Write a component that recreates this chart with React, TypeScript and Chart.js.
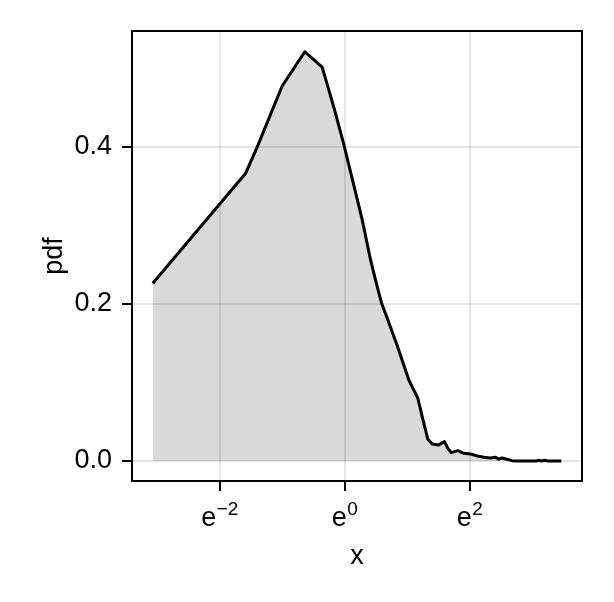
import React, { useEffect, useRef } from "react";
import { Chart, registerables } from "chart.js";

Chart.register(...registerables);

// natural log of x (the x axis is logarithmic, base e)
const logX = [
  -3.067, -1.584, -1.381, -0.997, -0.635, -0.357, -0.16, -0.01, 0.283, 0.416,
  0.507, 0.592, 0.656, 0.843, 1.029, 1.173, 1.243, 1.296, 1.333, 1.403,
  1.509, 1.6, 1.653, 1.707, 1.813, 1.909, 2.016, 2.123, 2.23, 2.336,
  2.416, 2.47, 2.52, 2.6, 2.68, 2.76, 3.08, 3.11, 3.147, 3.216, 3.24, 3.47,
];
const pdf = [
  0.226, 0.3656, 0.4025, 0.477, 0.5206, 0.501, 0.447, 0.4025, 0.307, 0.256,
  0.227, 0.201, 0.1875, 0.147, 0.103, 0.08, 0.0565, 0.0395, 0.0276, 0.0217,
  0.0204, 0.0246, 0.0162, 0.0106, 0.0131, 0.0098, 0.0089, 0.0064, 0.0047, 0.0038,
  0.0047, 0.0022, 0.0038, 0.0022, 0.0004, 0, 0, 0.001, 0, 0.001, 0, 0,
];
const xTickExponents = [-2, 0, 2];
const yTicks = [0, 0.2, 0.4];
const xTitle = "x";
const yTitle = "pdf";

const FONT = "'Liberation Sans', Arial, sans-serif";
const FS = 27;
const SUP = 19;

const framePlugin = {
  id: "frame",
  afterDraw(chart: any) {
    const { ctx, chartArea: a } = chart;
    ctx.save();
    ctx.strokeStyle = "#000";
    ctx.lineWidth = 2;
    ctx.strokeRect(a.left, a.top, a.right - a.left, a.bottom - a.top);

    // x tick labels as e with superscript exponent
    const xs = chart.scales.x;
    xs.ticks.forEach((t: any) => {
      const px = xs.getPixelForValue(t.value);
      const exp = t.value < 0 ? "\u2212" + Math.abs(t.value) : String(t.value);
      ctx.fillStyle = "#000";
      ctx.textBaseline = "alphabetic";
      ctx.textAlign = "left";
      ctx.font = `${FS}px ${FONT}`;
      const we = ctx.measureText("e").width;
      ctx.font = `${SUP}px ${FONT}`;
      const wx = ctx.measureText(exp).width;
      const start = px - (we + wx) / 2;
      ctx.font = `${FS}px ${FONT}`;
      ctx.fillText("e", start, 526);
      ctx.font = `${SUP}px ${FONT}`;
      ctx.fillText(exp, start + we + 0.5, 515);
    });
    ctx.restore();
  },
};

export default function App() {
  const ref = useRef<HTMLCanvasElement>(null);
  useEffect(() => {
    if (!ref.current) return;
    const chart = new Chart(ref.current, {
      type: "line",
      data: {
        datasets: [
          {
            data: logX.map((lx, i) => ({ x: lx, y: pdf[i] })),
            borderColor: "#000",
            borderWidth: 3,
            backgroundColor: "rgba(0,0,0,0.15)",
            fill: "origin",
            pointRadius: 0,
            tension: 0,
            borderJoinStyle: "round",
          },
        ],
      },
      options: {
        animation: false,
        responsive: false,
        events: [],
        layout: { padding: { left: 0, top: 31, right: 32, bottom: 0 } },
        plugins: { legend: { display: false }, tooltip: { enabled: false } },
        scales: {
          x: {
            type: "linear",
            min: -3.40,
            max: 3.80,
            afterBuildTicks: (s: any) => {
              s.ticks = xTickExponents.map((v) => ({ value: v }));
            },
            afterFit: (s: any) => {
              s.height = 121;
            },
            border: { display: false },
            grid: {
              color: "rgba(0,0,0,0.1)",
              lineWidth: 2,
              tickLength: 10,
              tickColor: "#000",
              tickWidth: 2,
            },
            ticks: {
              callback: () => "",
              font: { size: FS, family: FONT },
            },
            title: {
              display: true,
              text: xTitle,
              color: "#000",
              font: { size: FS, family: FONT },
              padding: { top: 0, bottom: 29 },
            },
          },
          y: {
            type: "linear",
            min: -0.0255,
            max: 0.547,
            afterBuildTicks: (s: any) => {
              s.ticks = yTicks.map((v) => ({ value: v }));
            },
            afterFit: (s: any) => {
              s.width = 132;
            },
            border: { display: false },
            grid: {
              color: "rgba(0,0,0,0.1)",
              lineWidth: 2,
              tickLength: 10,
              tickColor: "#000",
              tickWidth: 2,
            },
            ticks: {
              color: "#000",
              padding: 10,
              callback: (v: any) => Number(v).toFixed(1),
              font: { size: FS, family: FONT },
            },
            title: {
              display: true,
              text: yTitle,
              color: "#000",
              font: { size: FS, family: FONT },
              padding: { top: 38, bottom: 0 },
            },
          },
        },
      },
      plugins: [framePlugin],
    });
    return () => chart.destroy();
  }, []);
  return (
    <div style={{ position: "fixed", left: 0, top: 0, width: 614, height: 602, background: "#fff" }}>
      <canvas ref={ref} width={614} height={602} />
    </div>
  );
}
